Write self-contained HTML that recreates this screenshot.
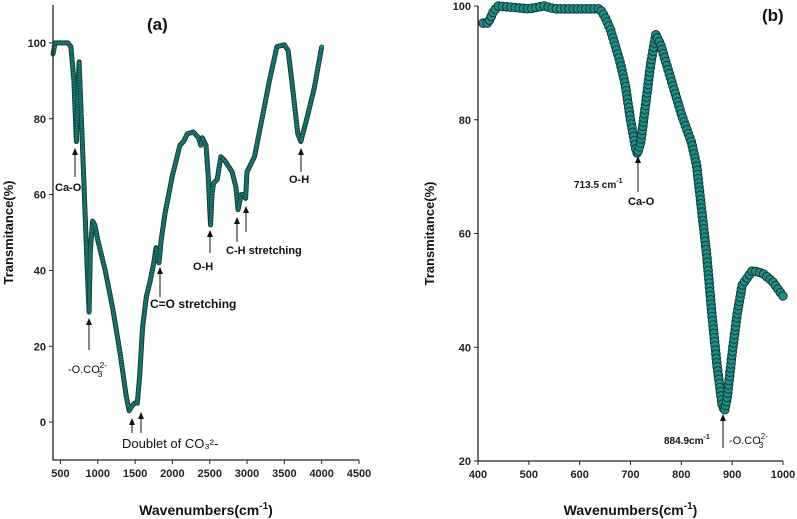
<!DOCTYPE html>
<html><head><meta charset="utf-8"><style>
body{margin:0;background:#fff}
svg{display:block;font-family:"Liberation Sans",sans-serif}
.t{font-size:11px;font-weight:bold;fill:#222}
</style></head><body>
<svg id="s" width="797" height="519" viewBox="0 0 797 519">
<g id="ga"></g>
<g id="gb"></g>
</svg>
<script>
const aWave=[400,430,600,640,680,713,730,750,770,800,830,860,884,900,930,960,1000,1100,1200,1300,1380,1420,1450,1490,1530,1560,1600,1650,1700,1750,1780,1800,1820,1850,1900,2000,2100,2150,2200,2280,2350,2380,2400,2450,2480,2510,2530,2550,2600,2650,2700,2800,2850,2880,2920,2950,2980,3000,3100,3200,3300,3400,3500,3550,3600,3680,3720,3800,3900,4000];
const aTrans=[97,100,100,99,90,74,85,95,85,70,55,40,29,45,53,52,48,40,30,18,7,3,4,5,5,12,25,33,37,42,46,43,42,48,55,65,73,74,76,76.5,75,73,75,73,65,52,60,63,64,70,69,66,62,56,60,60,59,66,70,80,90,99,99.5,98,90,76,74,80,88,99];
const aXTicks=[500,1000,1500,2000,2500,3000,3500,4000,4500];
const aYTicks=[0,20,40,60,80,100];
const bWave=[410,420,430,440,500,530,550,600,640,650,660,680,690,700,710,713.5,720,730,740,750,760,780,800,820,830,840,850,860,870,880,884.9,890,900,910,920,940,960,980,1000];
const bTrans=[97,97,99,100,99.5,100,99.5,99.5,99.5,98,96,90,86,80,75,74,76,83,90,95,93,87,81,76,72,64,56,46,37,30,28.8,31,39,46,51,53.5,53,51.5,49];
const bXTicks=[400,500,600,700,800,900,1000];
const bYTicks=[20,40,60,80,100];
const NS="http://www.w3.org/2000/svg";
function mk(p,tag,at){const e=document.createElementNS(NS,tag);for(const k in at)e.setAttribute(k,at[k]);p.appendChild(e);return e;}
function panel(g,o){
 const X=v=>o.l+(v-o.x0)/(o.x1-o.x0)*(o.r-o.l);
 const Y=v=>o.b-(v-o.y0)/(o.y1-o.y0)*(o.b-o.t);
 let d=o.w.map((w,i)=>(i?'L':'M')+X(w).toFixed(1)+','+Y(o.v[i]).toFixed(1)).join(' ');
 const ln=mk(g,'path',{d:d,fill:'none',stroke:'#163f3c','stroke-width':o.sw,'stroke-linejoin':'round'});
 
 
 const L=ln.getTotalLength();
 for(let s=0;s<=L;s+=o.step){const p=ln.getPointAtLength(s);
  const c=mk(g,'circle',{cx:p.x.toFixed(1),cy:p.y.toFixed(1),r:o.cr,fill:'#1d8f88',stroke:'#0f3a37','stroke-width':o.cs});
  
  }
 const ax=mk(g,'path',{d:`M${o.l},${o.t} L${o.l},${o.b} L${o.r},${o.b}`,fill:'none',stroke:'#222','stroke-width':1.3});
 
 
 o.xt.forEach(v=>{const x=X(v);mk(g,'line',{x1:x,x2:x,y1:o.b,y2:o.b+4,stroke:'#222'});
  const t=mk(g,'text',{x:x,y:o.b+17,'text-anchor':'middle',class:'t'});t.textContent=v;
  
  });
 o.yt.forEach(v=>{const y=Y(v);mk(g,'line',{x1:o.l-4,x2:o.l,y1:y,y2:y,stroke:'#222'});
  const t=mk(g,'text',{x:o.l-7,y:y+4,'text-anchor':'end',class:'t'});t.textContent=v;
  
  });
 const xt=mk(g,'text',{x:(o.l+o.r)/2,y:515,'text-anchor':'middle','font-size':'14','font-weight':'bold',fill:'#111'});
 xt.innerHTML='Wavenumbers(cm<tspan dy="-6" font-size="10">-1</tspan><tspan dy="6">)</tspan>';
 
 
 const yt=mk(g,'text',{x:0,y:0,transform:`translate(${o.ytx},${(o.t+o.b)/2}) rotate(-90)`,'text-anchor':'middle','font-size':'13','font-weight':'bold',fill:'#111'});
 yt.textContent='Transmitance(%)';
 
 
}
panel(document.getElementById('ga'),{l:53,r:359,t:5,b:460,x0:400,x1:4500,y0:-10,y1:110,w:aWave,v:aTrans,xt:aXTicks,yt:aYTicks,sw:5,cr:2,cs:0.6,step:1.6,ytx:13});
panel(document.getElementById('gb'),{l:478,r:783,t:6,b:461,x0:400,x1:1000,y0:20,y1:100,w:bWave,v:bTrans,xt:bXTicks,yt:bYTicks,sw:1,cr:4.3,cs:1,step:4.2,ytx:434});
const S=document.getElementById('s');
function arrow(x,tail,tip,n){const g=mk(S,'g',{});
 
 
 mk(g,'line',{x1:x,x2:x,y1:tail,y2:tip+5,stroke:'#111','stroke-width':1});
 mk(g,'path',{d:`M${x-3},${tip+7} L${x},${tip} L${x+3},${tip+7} Z`,fill:'#111'});}
function txt(x,y,s,n,sz,w){const t=mk(S,'text',{x:x,y:y,'font-size':sz||11,'font-weight':w||'bold',fill:'#111'});t.innerHTML=s;
 
 }
txt(147,30,'(a)','panel-a-label',17);
txt(762,21,'(b)','panel-b-label',17);
arrow(75,177,148,'arrow-ca-o');txt(55,191,'Ca-O','label-ca-o');
arrow(89,350,318,'arrow-oco3');txt(68,373,'-O.CO<tspan dy="-5" font-size="8">2-</tspan><tspan dx="-9" dy="9" font-size="8">3</tspan>','label-oco3',11,'normal');
arrow(132,433,418,'arrow-doublet-1');arrow(141,433,412,'arrow-doublet-2');
txt(122,448,'Doublet of CO₃²-','label-doublet',13,'normal');
arrow(160,297,267,'arrow-c-o');txt(150,308,'C=O stretching','label-c-o',12);
arrow(210,253,230,'arrow-o-h-1');txt(193,270,'O-H','label-o-h-1');
arrow(237,242,217,'arrow-c-h-1');arrow(246,232,206,'arrow-c-h-2');txt(226,254,'C-H stretching','label-c-h');
arrow(301,172,148,'arrow-o-h-2');txt(289,183,'O-H','label-o-h-2');
arrow(638,192,156,'arrow-713');txt(574,188,'713.5 cm<tspan dy="-5" font-size="7">-1</tspan>','label-713',10);txt(628,205,'Ca-O','label-ca-o-b');
arrow(723,448,414,'arrow-884');txt(664,444,'884.9cm<tspan dy="-5" font-size="7">-1</tspan>','label-884',10);
txt(729,444,'-O.CO<tspan dy="-5" font-size="8">2-</tspan><tspan dx="-9" dy="9" font-size="8">3</tspan>','label-oco3-b',11,'normal');
</script>
</body></html>
